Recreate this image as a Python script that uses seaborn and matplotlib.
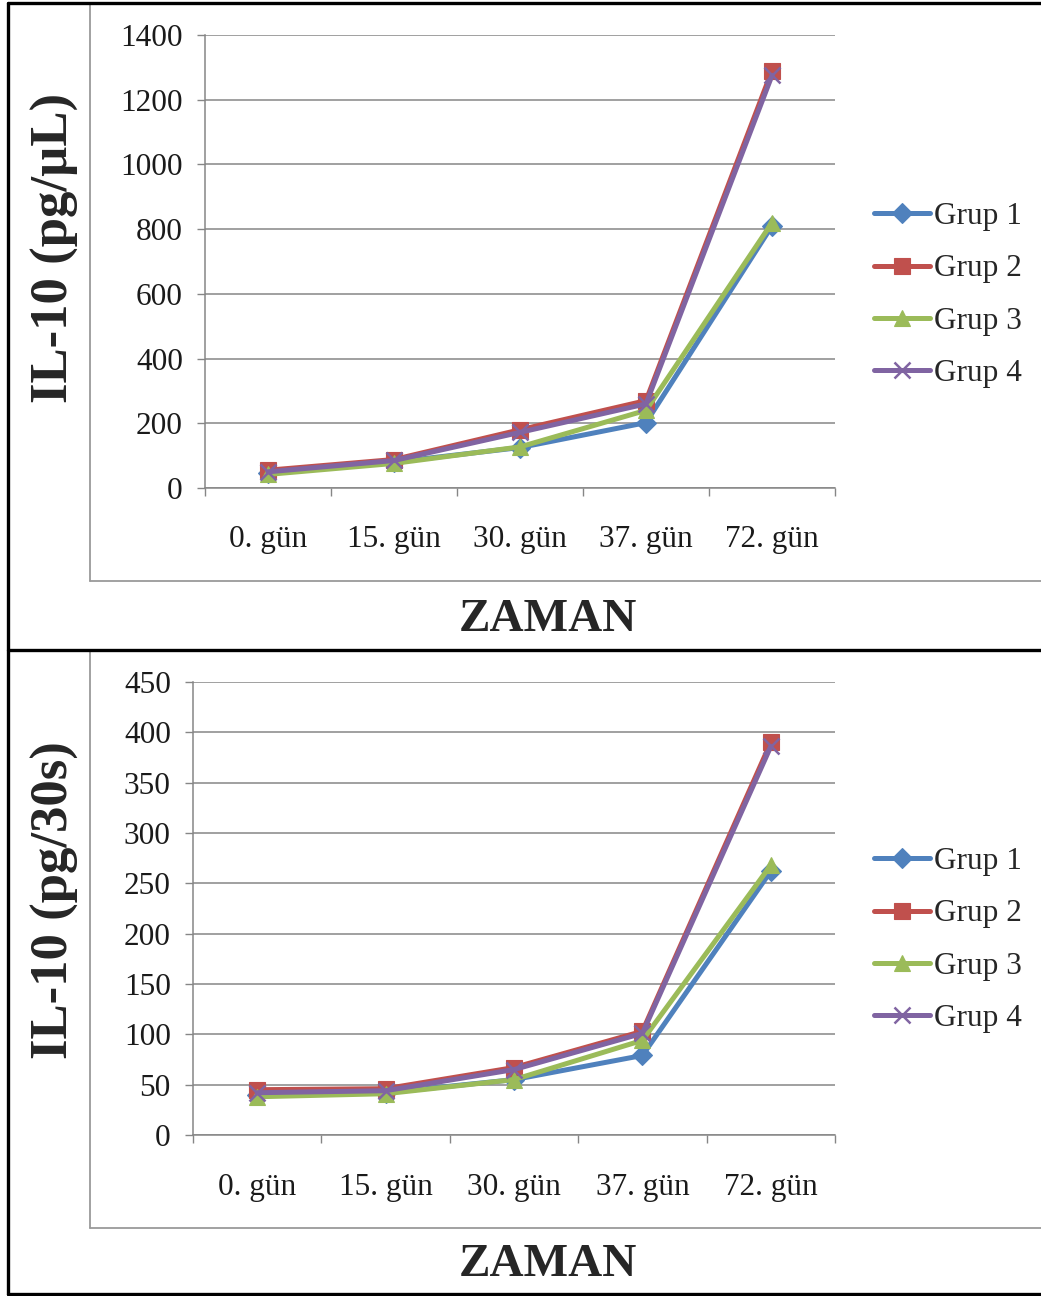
import matplotlib
matplotlib.use("Agg")
import matplotlib.pyplot as plt
import seaborn as sns
import pandas as pd
from matplotlib.lines import Line2D

# ---------------- data ----------------
categories = ["0. gün", "15. gün", "30. gün", "37. gün", "72. gün"]
groups = ["Grup 1", "Grup 2", "Grup 3", "Grup 4"]

top_g1 = [45, 80, 125, 202, 810]
top_g2 = [55, 88, 180, 270, 1290]
top_g3 = [42, 76, 127, 240, 820]
top_g4 = [50, 85, 172, 260, 1275]
top_yticks = [0, 200, 400, 600, 800, 1000, 1200, 1400]

bot_g1 = [40, 42, 55, 79, 262]
bot_g2 = [45, 46, 67, 103, 390]
bot_g3 = [38, 41, 55, 94, 268]
bot_g4 = [42, 44, 65, 101, 386]
bot_yticks = [0, 50, 100, 150, 200, 250, 300, 350, 400, 450]

colors = ["#4F81BD", "#C0504D", "#9BBB59", "#8064A2"]
markers = ["D", "s", "^", "x"]
msizes = [10, 12, 12, 12]

W, H = 1041, 1296
sns.set_theme(style="white")
plt.rcParams["font.family"] = ["Liberation Serif", "DejaVu Serif"]

fig = plt.figure(figsize=(W / 100, H / 100), dpi=100)


def fx(px):
    return px / W


def fy(py):
    return 1 - py / H


def make_df(series):
    rows = []
    for g, vals in zip(groups, series):
        for i, v in enumerate(vals):
            rows.append({"pos": i, "val": v, "grup": g})
    return pd.DataFrame(rows)


GRID = "#868686"
TICKFS = 22.5


def draw_panel(series, yticks, ylim, box):
    l, r, t, b = box
    ax = fig.add_axes([fx(l), fy(b), fx(r - l), (b - t) / H])
    df = make_df(series)
    for i, g in enumerate(groups):
        sub = df[df["grup"] == g]
        sns.lineplot(data=sub, x="pos", y="val", ax=ax, color=colors[i],
                     marker=markers[i], markersize=msizes[i], linewidth=3.6,
                     markeredgecolor=colors[i], markeredgewidth=1.8 if markers[i] == "x" else 0.8,
                     label=g, legend=False, zorder=3 + i)
    ax.set_xlim(-0.5, len(categories) - 0.5)
    ax.set_ylim(*ylim)
    ax.set_yticks(yticks)
    ax.set_yticklabels([str(v) for v in yticks])
    ax.set_xticks(range(len(categories)))
    ax.set_xticklabels(categories)
    ax.set_xticks([i - 0.5 for i in range(len(categories) + 1)], minor=True)
    ax.tick_params(axis="x", which="major", length=0, pad=27, labelsize=TICKFS, colors="#1a1a1a")
    ax.tick_params(axis="x", which="minor", length=6, width=1, color=GRID, direction="out", bottom=True)
    ax.tick_params(axis="y", which="major", length=6, width=1, color=GRID, direction="out", left=True,
                   pad=10, labelsize=TICKFS, labelcolor="#1a1a1a")
    ax.yaxis.grid(True, color=GRID, linewidth=1.1)
    ax.xaxis.grid(False)
    for s in ["top", "right"]:
        ax.spines[s].set_visible(False)
    for s in ["left", "bottom"]:
        ax.spines[s].set_color(GRID)
        ax.spines[s].set_linewidth(1.1)
    ax.set_xlabel("")
    ax.set_ylabel("")
    ax.set_axisbelow(True)

    handles = [Line2D([0], [0], color=colors[i], marker=markers[i], markersize=msizes[i],
                      linewidth=3.6, markeredgecolor=colors[i],
                      markeredgewidth=1.8 if markers[i] == "x" else 0.8) for i in range(4)]
    return ax, handles


# panel geometry in pixels: left, right, top, bottom of plot area
ax1, h1 = draw_panel([top_g1, top_g2, top_g3, top_g4], top_yticks, (0, 1400),
                     (205, 835, 35, 488))
ax2, h2 = draw_panel([bot_g1, bot_g2, bot_g3, bot_g4], bot_yticks, (0, 450),
                     (193, 835, 682, 1135))

for hs, ycen in [(h1, 295), (h2, 940)]:
    fig.legend(hs, groups, loc="center left", bbox_to_anchor=(fx(874), fy(ycen)),
               frameon=False, fontsize=TICKFS, handlelength=1.78, handletextpad=0.15,
               labelspacing=0.74, borderaxespad=0, borderpad=0)

# axis titles
fig.text(fx(55), fy(248), "IL-10 (pg/µL)", rotation=90, ha="center", va="center",
         fontsize=38, fontweight="bold")
fig.text(fx(55), fy(900), "IL-10 (pg/30s)", rotation=90, ha="center", va="center",
         fontsize=38, fontweight="bold")
fig.text(fx(548), fy(620), "ZAMAN", ha="center", va="center", fontsize=34, fontweight="bold")
fig.text(fx(548), fy(1265), "ZAMAN", ha="center", va="center", fontsize=34, fontweight="bold")

# chart-area frames (gray)
for top, bot in [(4, 581), (650, 1228)]:
    fig.add_artist(Line2D([fx(90), fx(90)], [fy(top), fy(bot)], color="#9a9a9a", linewidth=1.3,
                          transform=fig.transFigure))
    fig.add_artist(Line2D([fx(90), fx(1041)], [fy(bot), fy(bot)], color="#9a9a9a", linewidth=1.3,
                          transform=fig.transFigure))

# outer black borders
k = dict(color="black", linewidth=2.4, transform=fig.transFigure)
fig.add_artist(Line2D([fx(8), fx(8)], [fy(3), fy(1294)], **k))
fig.add_artist(Line2D([fx(8), fx(1041)], [fy(3), fy(3)], **k))
fig.add_artist(Line2D([fx(8), fx(1041)], [fy(650), fy(650)], **k))
fig.add_artist(Line2D([fx(8), fx(1041)], [fy(1294), fy(1294)], **k))

fig.savefig("out.png", dpi=100)
